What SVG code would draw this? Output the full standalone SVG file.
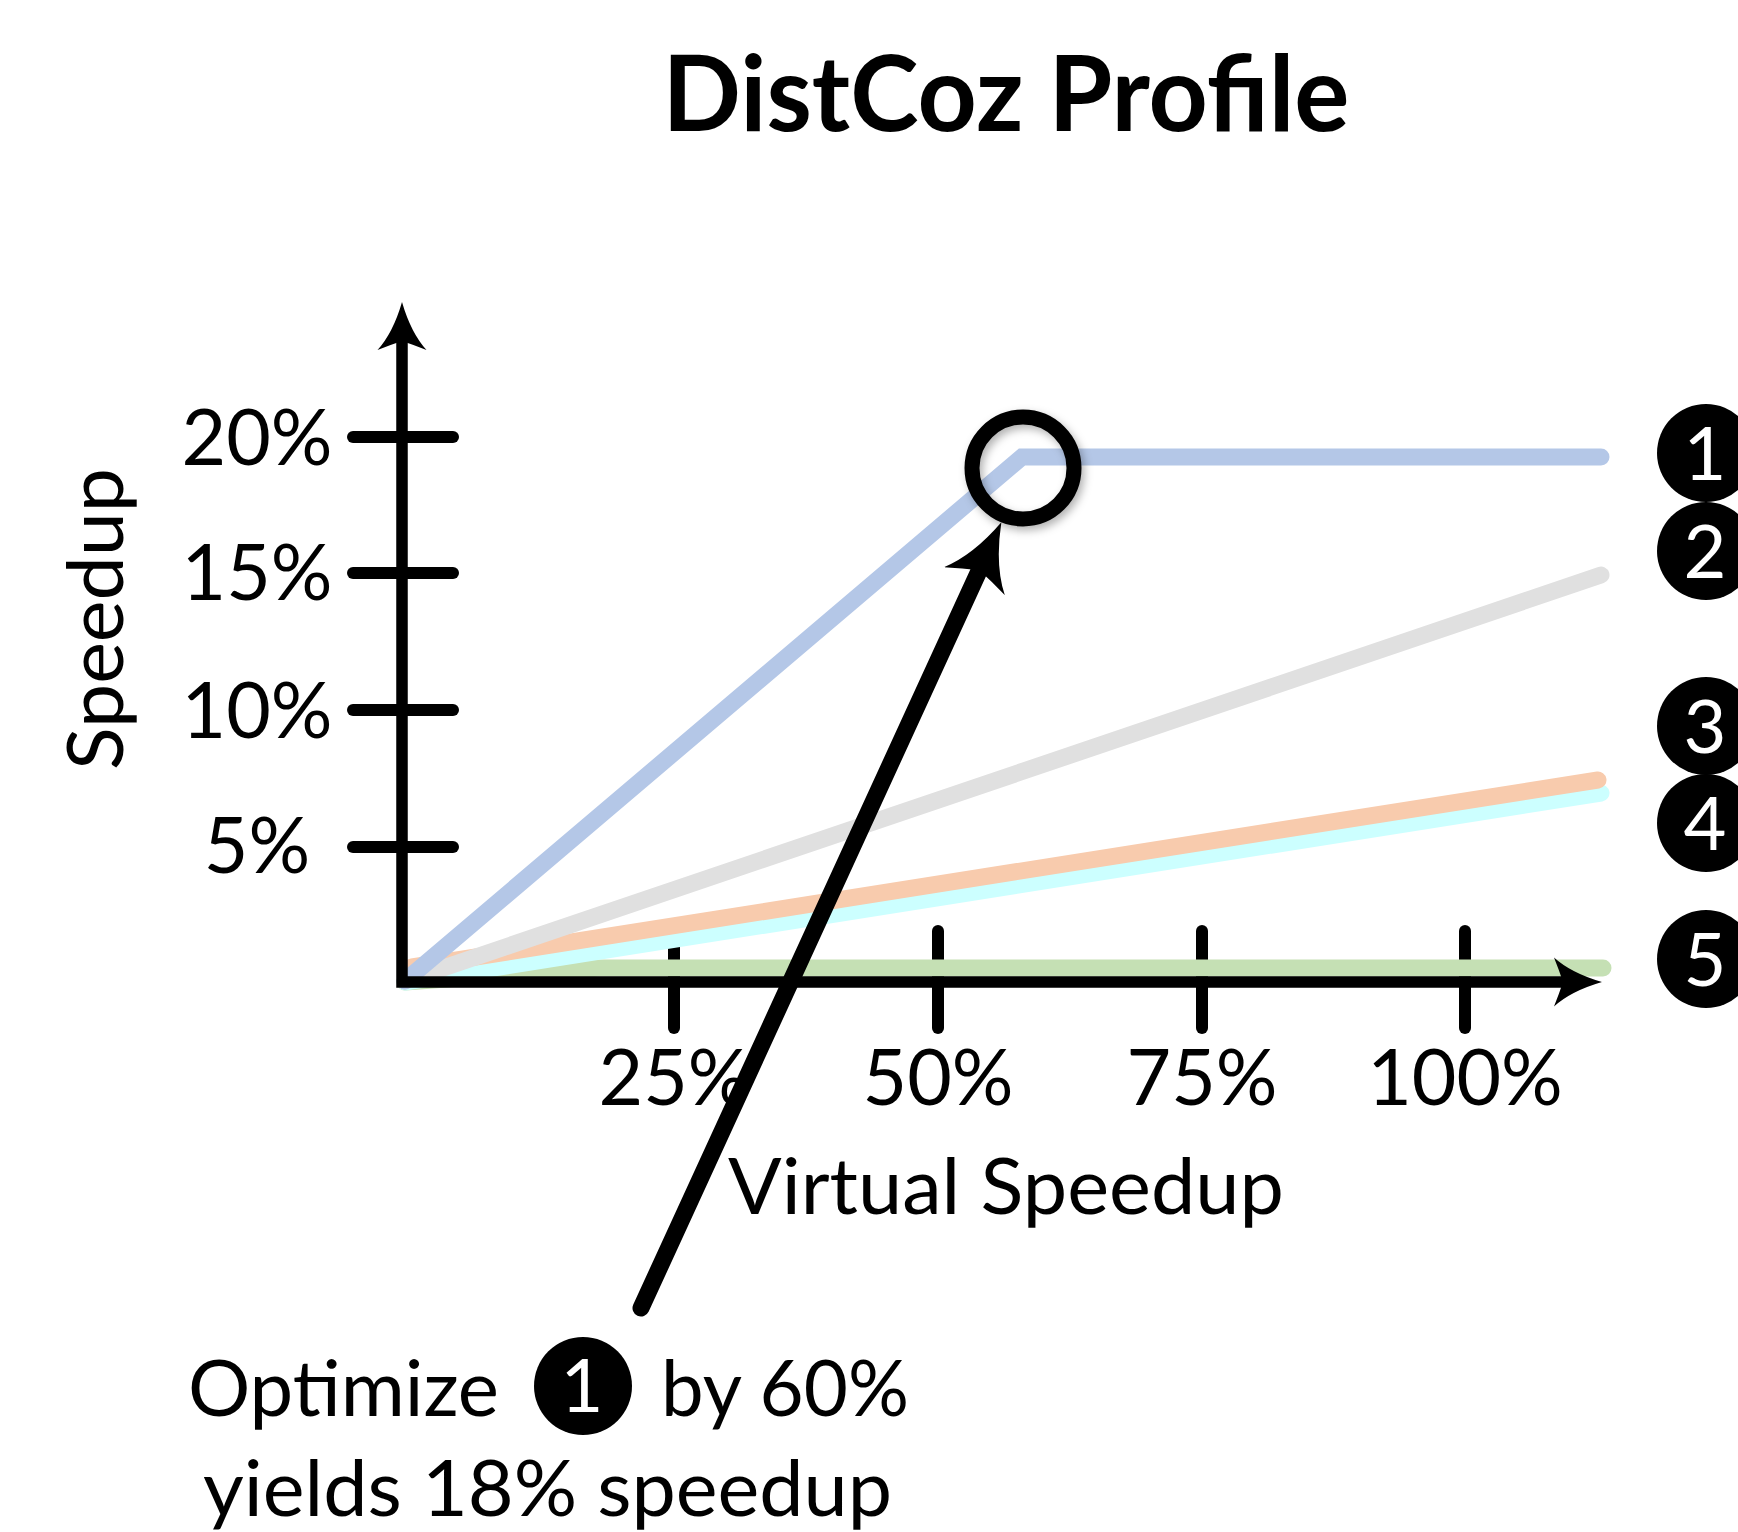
<svg xmlns="http://www.w3.org/2000/svg" width="1738" height="1532" viewBox="0 0 1738 1532">
<style>
.t{font-family:Lato,"Liberation Sans",sans-serif;fill:#000}
.lbl{font-size:77px}
.ax{fill:none;stroke:#000;stroke-width:11.5;stroke-linejoin:miter}
.tick{stroke:#000;stroke-width:12;stroke-linecap:round}
.ser{fill:none;stroke-width:17;stroke-linecap:round;stroke-linejoin:miter}
.badge{fill:#000}
.bnum{font-family:Lato,"Liberation Sans",sans-serif;fill:#fff;font-size:74px;text-anchor:middle}
</style>
<defs>
<marker id="ah" markerUnits="userSpaceOnUse" viewBox="0 -26 50 52" refX="20" refY="0" markerWidth="50" markerHeight="52" orient="auto-start-reverse">
<path d="M48,0 Q17,-9 0,-24.5 Q5,-12 9,0 Q5,12 0,24.5 Q17,9 48,0 Z" fill="#000"/>
</marker>
<marker id="ah2" markerUnits="userSpaceOnUse" viewBox="0 -35 66 70" refX="27" refY="0" markerWidth="66" markerHeight="70" orient="auto">
<path d="M64.8,0 Q23,-12 0,-33.5 Q7,-16 12,0 Q7,16 0,33.5 Q23,12 64.8,0 Z" fill="#000"/>
</marker>
<filter id="sh" x="-30%" y="-30%" width="160%" height="160%">
<feDropShadow dx="3" dy="4" stdDeviation="4" flood-color="#000" flood-opacity="0.3"/>
</filter>
</defs>

<g id="title"><text class="t" x="1006" y="131" font-size="106" font-weight="700" text-anchor="middle" textLength="687" lengthAdjust="spacingAndGlyphs">DistCoz Profile</text></g>

<g id="ticks">
<line class="tick" x1="353" y1="437" x2="453" y2="437"/>
<line class="tick" x1="353" y1="573" x2="453" y2="573"/>
<line class="tick" x1="353" y1="710" x2="453" y2="710"/>
<line class="tick" x1="353" y1="847" x2="453" y2="847"/>
<line class="tick" x1="674" y1="931" x2="674" y2="1028"/>
<line class="tick" x1="938" y1="931" x2="938" y2="1028"/>
<line class="tick" x1="1202" y1="931" x2="1202" y2="1028"/>
<line class="tick" x1="1465" y1="931" x2="1465" y2="1028"/>
</g>

<g id="series">
<path id="s5" class="ser" stroke="#c5e0b4" d="M405,982 L600,968 L1603,968"/>
<path id="s4" class="ser" stroke="#ccffff" d="M405,982 L1601,793"/>
<path id="s3" class="ser" stroke="#f8cbad" d="M412,967 L1598,780"/>
<path id="s2" class="ser" stroke="#e0e0e0" d="M405,981 L1601,575"/>
<path id="s1" class="ser" stroke="#b4c7e7" d="M405,981 L1022,457 L1601,457"/>
</g>

<g id="axes">
<path class="ax" d="M402,330 L402,982 L1574,982" marker-start="url(#ah)" marker-end="url(#ah)"/>
</g>

<g id="axis-labels">
<text class="t lbl" x="257" y="465" text-anchor="middle">20%</text>
<text class="t lbl" x="257" y="600" text-anchor="middle">15%</text>
<text class="t lbl" x="257" y="738" text-anchor="middle">10%</text>
<text class="t lbl" x="257" y="873" text-anchor="middle">5%</text>
<text class="t lbl" x="674" y="1105" text-anchor="middle">25%</text>
<text class="t lbl" x="938" y="1105" text-anchor="middle">50%</text>
<text class="t lbl" x="1202" y="1105" text-anchor="middle">75%</text>
<text class="t lbl" x="1465" y="1105" text-anchor="middle">100%</text>
<text class="t lbl" x="1006" y="1214" text-anchor="middle" textLength="556" lengthAdjust="spacingAndGlyphs">Virtual Speedup</text>
<text class="t lbl" x="0" y="0" text-anchor="middle" transform="translate(123,619) rotate(-90)" textLength="302" lengthAdjust="spacingAndGlyphs">Speedup</text>
</g>

<g id="badges">
<g id="b1"><circle class="badge" cx="1706" cy="453" r="49"/><text class="bnum" x="1705" y="480">1</text></g>
<g id="b2"><circle class="badge" cx="1706" cy="551" r="49"/><text class="bnum" x="1705" y="578">2</text></g>
<g id="b3"><circle class="badge" cx="1706" cy="726" r="49"/><text class="bnum" x="1705" y="753">3</text></g>
<g id="b4"><circle class="badge" cx="1706" cy="823" r="49"/><text class="bnum" x="1705" y="850">4</text></g>
<g id="b5"><circle class="badge" cx="1706" cy="959" r="49"/><text class="bnum" x="1705" y="986">5</text></g>
</g>

<g id="highlight">
<circle cx="1023" cy="468" r="51" fill="none" stroke="#000" stroke-width="15" filter="url(#sh)"/>
</g>

<g id="connectors">
<line x1="641" y1="1308" x2="985.6" y2="556.6" stroke="#000" stroke-width="17" stroke-linecap="round" marker-end="url(#ah2)"/>
</g>

<g id="annotation">
<text class="t lbl" x="188" y="1416" textLength="311" lengthAdjust="spacingAndGlyphs">Optimize</text>
<circle class="badge" cx="583" cy="1386" r="49"/>
<text class="bnum" x="582" y="1412" font-size="72">1</text>
<text class="t lbl" x="661" y="1416" textLength="248" lengthAdjust="spacingAndGlyphs">by 60%</text>
<text class="t lbl" x="203" y="1516" textLength="689" lengthAdjust="spacingAndGlyphs">yields 18% speedup</text>
</g>
</svg>
